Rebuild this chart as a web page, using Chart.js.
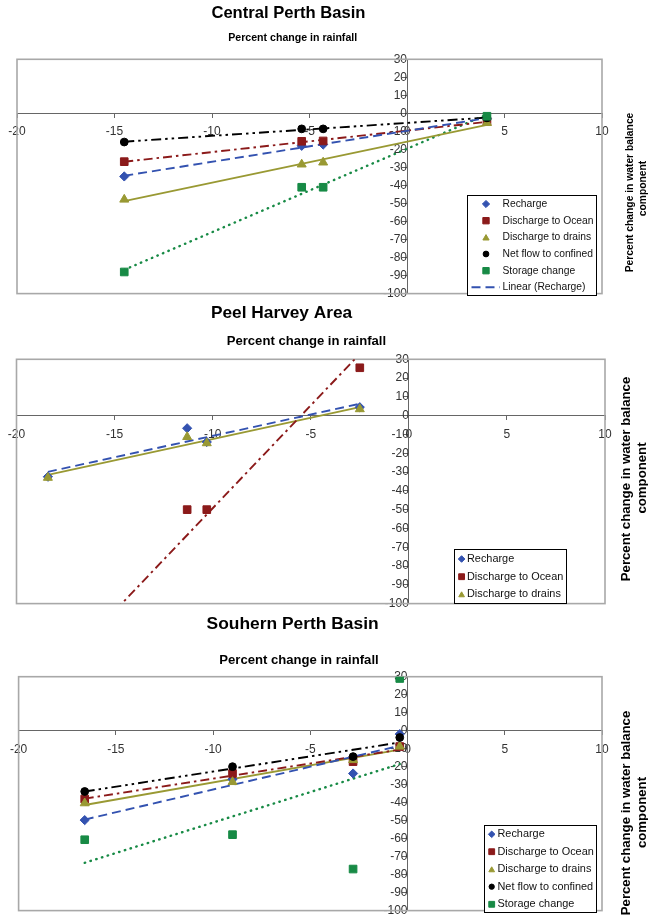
<!DOCTYPE html>
<html><head><meta charset="utf-8">
<script src="https://cdn.jsdelivr.net/npm/chart.js@4.4.1/dist/chart.umd.min.js"></script>
<style>
html,body{margin:0;padding:0;background:#fff;}
body{width:648px;height:917px;position:relative;overflow:hidden;}
canvas{position:absolute;left:0;}
</style></head><body>
<canvas id="c1" width="648" height="300" style="top:0px"></canvas>
<canvas id="c2" width="648" height="310" style="top:300px"></canvas>
<canvas id="c3" width="648" height="307" style="top:610px"></canvas>
<script>
// ---------- data ----------
const xTickValues = [-20, -15, -10, -5, 0, 5, 10];
const yTickValues = [30, 20, 10, 0, -10, -20, -30, -40, -50, -60, -70, -80, -90, -100];

const centralRain     = [-14.5, -5.4, -4.3, 4.1];
const centralRecharge = [-35, -18, -17.3, -3];
const centralOcean    = [-26.8, -15.5, -15.3, -4.6];
const centralDrains   = [-47.8, -28.3, -27.2, -5.3];
const centralNetFlow  = [-15.9, -8.6, -8.6, -2.5];
const centralStorage  = [-88, -41, -41, -1.6];

const peelRain     = [-18.4, -11.3, -10.3, -2.5];
const peelRecharge = [-32.5, -6.7, -14, 4.5];
const peelOcean    = [-150, -50, -50, 25.5];
const peelDrains   = [-33, -11.3, -14.6, 3.5];

const southRain     = [-16.6, -9.0, -2.8, -0.4];
const southRecharge = [-49.7, -27, -23.8, -1.9];
const southOcean    = [-38, -23.8, -17.2, -8.8];
const southDrains   = [-40.3, -28.5, -16.3, -8.8];
const southNetFlow  = [-33.8, -20, -14.4, -3.8];
const southStorage  = [-60.6, -57.8, -76.9, 29];

const titles = ['Central Perth Basin', 'Peel Harvey Area', 'Souhern Perth Basin'];
const xTitle = 'Percent change in rainfall';
const yTitle1 = 'Percent change in water balance';
const yTitle2 = 'component';

// ---------- styles ----------
const FONT = '"Liberation Sans", Arial, sans-serif';
const styles = {
  'Recharge':             {color:'#3352B0', point:'rectRot',  radius:4.6, dash:[9,5], cap:'butt'},
  'Discharge to Ocean':   {color:'#8B1A1A', point:'rect',     radius:5.4, dash:[9,4,2.5,4], cap:'butt'},
  'Discharge to drains':  {color:'#999933', point:'triangle', radius:5.2, dash:[], cap:'butt'},
  'Net flow to confined': {color:'#000000', point:'circle',   radius:3.9, dash:[10,4,2.5,4,2.5,4], cap:'butt'},
  'Storage change':       {color:'#178A45', point:'rect',     radius:5.4, dash:[0.5,5.5], cap:'round'}
};

function fitLine(xs, ys) {
  const n = xs.length;
  const mx = xs.reduce((a,b)=>a+b,0)/n, my = ys.reduce((a,b)=>a+b,0)/n;
  let sxy = 0, sxx = 0;
  for (let i=0;i<n;i++){ sxy += (xs[i]-mx)*(ys[i]-my); sxx += (xs[i]-mx)*(xs[i]-mx); }
  const b = sxy/sxx, a = my - b*mx;
  const x0 = Math.min(...xs), x1 = Math.max(...xs);
  return [{x:x0, y:a+b*x0}, {x:x1, y:a+b*x1}];
}

function makeDatasets(xs, series) {
  const ds = [];
  series.forEach((s, i) => {
    const st = styles[s.name];
    ds.push({type:'line', label:'Linear (' + s.name + ')', data: fitLine(xs, s.ys),
      borderColor: st.color, borderWidth: st.cap==='round' ? 2.4 : 1.9, borderDash: st.dash,
      borderCapStyle: st.cap, pointRadius: 0, fill: false, tension: 0, order: 100 + i});
    ds.push({type:'scatter', label: s.name, data: xs.map((x, j) => ({x: x, y: s.ys[j]})),
      backgroundColor: st.color, borderColor: st.color, borderWidth: 1,
      pointStyle: st.point, pointRadius: st.radius, pointHoverRadius: st.radius,
      showLine: false, order: 50 - i});
  });
  return ds;
}

function drawMarker(ctx, style, x, y, r, color) {
  ctx.save();
  ctx.fillStyle = color; ctx.strokeStyle = color; ctx.lineWidth = 1;
  ctx.beginPath();
  if (style === 'rectRot') {
    ctx.moveTo(x, y - r); ctx.lineTo(x + r, y); ctx.lineTo(x, y + r); ctx.lineTo(x - r, y); ctx.closePath();
  } else if (style === 'rect') {
    const s = r / Math.SQRT2; ctx.rect(x - s, y - s, 2*s, 2*s);
  } else if (style === 'triangle') {
    for (let k=0;k<3;k++){ const a = k*2*Math.PI/3; const px = x + Math.sin(a)*r, py = y - Math.cos(a)*r*1.0 + r*0.25; k?ctx.lineTo(px,py):ctx.moveTo(px,py);} ctx.closePath();
  } else {
    ctx.arc(x, y, r, 0, Math.PI*2);
  }
  ctx.fill(); ctx.stroke();
  ctx.restore();
}

const framePlugin = {
  id: 'frame',
  beforeDatasetsDraw(chart) {
    const {ctx, chartArea: a} = chart;
    ctx.save();
    ctx.strokeStyle = '#a8a8a8'; ctx.lineWidth = 1.6;
    ctx.strokeRect(a.left, a.top, a.right - a.left, a.bottom - a.top);
    ctx.restore();
  }
};

const overlayPlugin = {
  id: 'overlay',
  afterDraw(chart, args, opts) {
    const ctx = chart.ctx;
    // legend
    const L = opts.legend;
    if (L) {
      ctx.save();
      ctx.fillStyle = '#fff'; ctx.fillRect(L.x, L.y, L.w, L.h);
      ctx.strokeStyle = '#000'; ctx.lineWidth = 1;
      ctx.strokeRect(L.x + 0.5, L.y + 0.5, L.w, L.h);
      ctx.font = L.fontSize + 'px ' + FONT; ctx.fillStyle = '#111';
      ctx.textBaseline = 'middle'; ctx.textAlign = 'left';
      L.items.forEach((it, k) => {
        const yy = L.rows[k];
        const st = styles[it.series];
        if (it.line) {
          ctx.save(); ctx.strokeStyle = st.color; ctx.lineWidth = 2; ctx.setLineDash(st.dash);
          ctx.beginPath(); ctx.moveTo(L.lx0, yy); ctx.lineTo(L.lx1, yy); ctx.stroke(); ctx.restore();
        } else {
          drawMarker(ctx, st.point, L.mx, yy, st.point === 'rect' ? L.mr*1.25 : (st.point==='circle' ? L.mr*0.8 : L.mr), st.color);
        }
        ctx.fillStyle = '#111';
        ctx.fillText(it.label, L.tx, yy);
      });
      ctx.restore();
    }
    // texts
    (opts.texts || []).forEach(t => {
      ctx.save();
      ctx.font = t.font; ctx.fillStyle = '#000'; ctx.textAlign = 'center'; ctx.textBaseline = 'alphabetic';
      ctx.translate(t.x, t.y);
      if (t.rot) ctx.rotate(-Math.PI/2);
      ctx.fillText(t.text, 0, 0);
      ctx.restore();
    });
  }
};

function makeChart(id, datasets, pad, overlay) {
  return new Chart(document.getElementById(id), {
    type: 'scatter',
    data: {datasets: datasets},
    plugins: [framePlugin, overlayPlugin],
    options: {
      responsive: false, animation: false, events: [],
      layout: {padding: pad},
      plugins: {legend: {display: false}, tooltip: {enabled: false}, title: {display: false}, overlay: overlay},
      scales: {
        x: {type: 'linear', min: -20, max: 10, position: {y: 0},
          afterBuildTicks: s => { s.ticks = xTickValues.map(v => ({value: v})); },
          afterFit: s => { s.height = 0; s.paddingLeft = 0; s.paddingRight = 0; s.paddingTop = 0; s.paddingBottom = 0; },
          grid: {drawOnChartArea: false, tickLength: 4, color: '#666', tickColor: '#666'},
          border: {color: '#666', width: 1},
          ticks: {autoSkip: false, maxRotation: 0, padding: 7.5, color: '#333',
            font: {family: FONT, size: 12}, callback: v => String(v)}
        },
        y: {type: 'linear', min: -100, max: 30, position: {x: 0},
          afterBuildTicks: s => { s.ticks = yTickValues.map(v => ({value: v})); },
          afterFit: s => { s.width = 0; s.paddingLeft = 0; s.paddingRight = 0; s.paddingTop = 0; s.paddingBottom = 0; },
          grid: {drawOnChartArea: false, tickLength: 5, color: '#666', tickColor: '#666'},
          border: {color: '#666', width: 1},
          ticks: {autoSkip: false, padding: 6, color: '#333',
            font: {family: FONT, size: 12}, callback: v => String(v)}
        }
      }
    }
  });
}

// ---------- panel 1 ----------
const s1 = [
  {name: 'Recharge', ys: centralRecharge},
  {name: 'Discharge to Ocean', ys: centralOcean},
  {name: 'Discharge to drains', ys: centralDrains},
  {name: 'Net flow to confined', ys: centralNetFlow},
  {name: 'Storage change', ys: centralStorage}
];
makeChart('c1', makeDatasets(centralRain, s1), {left: 17, right: 46, top: 59.3, bottom: 3.3}, {
  legend: {x: 467, y: 195, w: 129, h: 100, mx: 486, tx: 502.5, mr: 3.6, fontSize: 10.3, lx0: 471.5, lx1: 500,
    rows: [204, 220.7, 237.3, 254, 270.7, 287.3],
    items: s1.map(s => ({series: s.name, label: s.name})).concat([{series: 'Recharge', label: 'Linear (Recharge)', line: true}])},
  texts: [
    {text: titles[0], x: 288.4, y: 18.3, font: 'bold 16.6px ' + FONT},
    {text: xTitle, x: 292.7, y: 40.7, font: 'bold 10.6px ' + FONT},
    {text: yTitle1, x: 633, y: 192.5, font: 'bold 10.3px ' + FONT, rot: true},
    {text: yTitle2, x: 645.5, y: 188.5, font: 'bold 10.3px ' + FONT, rot: true}
  ]
});

// ---------- panel 2 ----------
const s2 = [
  {name: 'Recharge', ys: peelRecharge},
  {name: 'Discharge to Ocean', ys: peelOcean},
  {name: 'Discharge to drains', ys: peelDrains}
];
makeChart('c2', makeDatasets(peelRain, s2), {left: 16.5, right: 43, top: 59.3, bottom: 4}, {
  legend: {x: 454, y: 249, w: 112, h: 54, mx: 461.6, tx: 467, mr: 3.3, fontSize: 10.9,
    rows: [259, 276.7, 294.3],
    items: s2.map(s => ({series: s.name, label: s.name}))},
  texts: [
    {text: titles[1], x: 281.6, y: 18.3, font: 'bold 17.3px ' + FONT},
    {text: xTitle, x: 306.4, y: 45, font: 'bold 13.1px ' + FONT},
    {text: yTitle1, x: 629.5, y: 179, font: 'bold 13.2px ' + FONT, rot: true},
    {text: yTitle2, x: 645.5, y: 178, font: 'bold 13.2px ' + FONT, rot: true}
  ]
});

// ---------- panel 3 ----------
const s3 = [
  {name: 'Recharge', ys: southRecharge},
  {name: 'Discharge to Ocean', ys: southOcean},
  {name: 'Discharge to drains', ys: southDrains},
  {name: 'Net flow to confined', ys: southNetFlow},
  {name: 'Storage change', ys: southStorage}
];
makeChart('c3', makeDatasets(southRain, s3), {left: 18.6, right: 46, top: 66.7, bottom: 5.5}, {
  legend: {x: 484, y: 215, w: 112, h: 87, mx: 491.7, tx: 497.5, mr: 3.3, fontSize: 10.9,
    rows: [224.3, 241.7, 259.3, 276.7, 294.3],
    items: s3.map(s => ({series: s.name, label: s.name}))},
  texts: [
    {text: titles[2], x: 292.6, y: 19.3, font: 'bold 17.4px ' + FONT},
    {text: xTitle, x: 299, y: 54.3, font: 'bold 13.1px ' + FONT},
    {text: yTitle1, x: 630, y: 203, font: 'bold 13.2px ' + FONT, rot: true},
    {text: yTitle2, x: 645.5, y: 202.5, font: 'bold 13.2px ' + FONT, rot: true}
  ]
});
</script>
</body></html>
